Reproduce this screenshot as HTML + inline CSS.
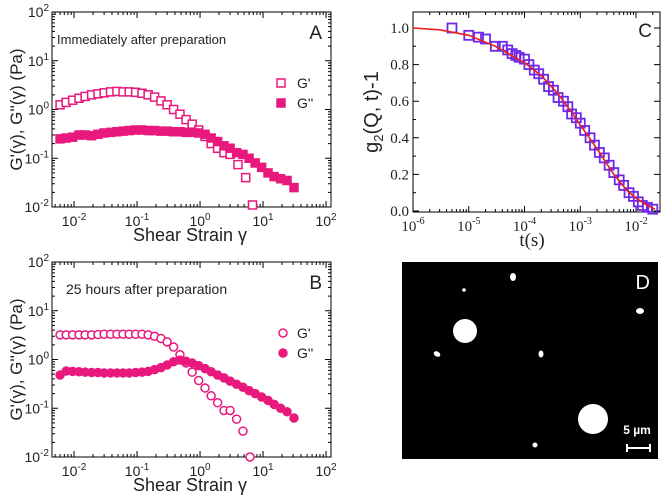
<!DOCTYPE html>
<html><head><meta charset="utf-8"><style>
html,body{margin:0;padding:0;background:#fff;}
svg{display:block;font-family:"Liberation Sans",sans-serif;}
.ser{font-family:"Liberation Serif",serif;}
</style></head><body>
<svg id="fig" width="666" height="498" viewBox="0 0 666 498">
<rect x="0" y="0" width="666" height="498" fill="#fff"/>
<g id="panelA"></g>
<g id="panelB"></g>
<g id="panelC"></g>
<g id="panelD">
  <rect x="402" y="262" width="256" height="197" fill="#000"/>
  <text x="650" y="289" font-size="20" fill="#fff" text-anchor="end">D</text>
  <circle cx="465" cy="331" r="12" fill="#fff"/>
  <circle cx="593" cy="419" r="15" fill="#fff"/>
  <ellipse cx="513" cy="277" rx="3" ry="4" fill="#fff"/>
  <circle cx="464" cy="290" r="1.8" fill="#fff"/>
  <ellipse cx="640" cy="311" rx="4" ry="3" fill="#fff"/>
  <ellipse cx="437" cy="354" rx="3.5" ry="2.5" fill="#fff" transform="rotate(30 437 354)"/>
  <ellipse cx="541" cy="354" rx="2.5" ry="3.5" fill="#fff"/>
  <circle cx="535" cy="445" r="2.5" fill="#fff"/>
  <text x="637" y="434" font-size="12" font-weight="bold" fill="#fff" text-anchor="middle">5 µm</text>
  <path d="M627 448 H650 M627 444 V452 M650 444 V452" stroke="#fff" stroke-width="2"/>
</g>
</svg>
<script>
// Panel A data
const aGpX = [0.006,0.0075,0.0095,0.012,0.015,0.019,0.024,0.03,0.038,0.048,0.06,0.075,0.095,0.12,0.15,0.19,0.24,0.3,0.38,0.48,0.6,0.75,0.95,1.2,1.5,1.9,2.4,3.0,4.0,5.3,6.8];
const aGpY = [1.25,1.4,1.55,1.7,1.85,2.0,2.1,2.2,2.3,2.35,2.3,2.3,2.25,2.15,2.0,1.8,1.5,1.25,1.0,0.8,0.62,0.5,0.38,0.28,0.2,0.16,0.13,0.12,0.074,0.04,0.011];
const aGppX = [0.006,0.0075,0.0095,0.012,0.015,0.019,0.024,0.03,0.038,0.048,0.06,0.075,0.095,0.12,0.15,0.19,0.24,0.3,0.38,0.48,0.6,0.75,0.95,1.2,1.5,1.9,2.4,3.0,3.8,4.8,6.0,7.5,9.5,12,15,19,24,31];
const aGppY = [0.25,0.26,0.27,0.3,0.3,0.29,0.31,0.33,0.34,0.35,0.36,0.37,0.38,0.38,0.37,0.37,0.36,0.36,0.35,0.35,0.34,0.34,0.33,0.31,0.26,0.22,0.18,0.16,0.13,0.12,0.1,0.08,0.065,0.05,0.042,0.038,0.035,0.025];
// Panel B data
const bGpX = [0.006,0.0075,0.0095,0.012,0.015,0.019,0.024,0.03,0.038,0.048,0.06,0.075,0.095,0.12,0.15,0.19,0.24,0.3,0.38,0.48,0.6,0.75,0.95,1.2,1.5,1.9,2.4,3.0,3.8,4.8,6.2];
const bGpY = [3.2,3.2,3.2,3.2,3.2,3.2,3.25,3.3,3.3,3.3,3.3,3.3,3.3,3.3,3.2,3.0,2.7,2.3,1.8,1.25,0.85,0.55,0.37,0.26,0.18,0.13,0.09,0.09,0.06,0.034,0.01];
const bGppX = [0.006,0.0075,0.0095,0.012,0.015,0.019,0.024,0.03,0.038,0.048,0.06,0.075,0.095,0.12,0.15,0.19,0.24,0.3,0.38,0.48,0.6,0.75,0.95,1.2,1.5,1.9,2.4,3.0,3.8,4.8,6.0,7.5,9.5,12,15,19,24,31];
const bGppY = [0.48,0.58,0.57,0.56,0.55,0.54,0.54,0.53,0.53,0.53,0.53,0.53,0.54,0.55,0.57,0.62,0.68,0.77,0.9,0.97,0.92,0.85,0.75,0.65,0.56,0.48,0.42,0.36,0.31,0.27,0.23,0.2,0.17,0.145,0.12,0.1,0.085,0.063];
const xTickLabelsAB = ['-2','-1','0','1','2'];
const yTickLabelsAB = ['-2','-1','0','1','2'];
// Panel C data
const cFitT = [1e-6,3e-6,1e-5,3e-5,1e-4,2e-4,4e-4,7e-4,1e-3,2e-3,4e-3,7e-3,1e-2,1.5e-2,2.2e-2];
const cFitG = [1.0,0.99,0.96,0.9,0.81,0.74,0.64,0.54,0.47,0.34,0.2,0.11,0.07,0.035,0.01];
const cDataT = [5e-6,1e-5,1.5e-5,2e-5,3e-5,4e-5,5e-5,6e-5,7e-5,8e-5,1e-4,1.2e-4,1.5e-4,1.8e-4,2.2e-4,2.7e-4,3.3e-4,4e-4,5e-4,6e-4,7e-4,8.5e-4,1e-3,1.2e-3,1.5e-3,1.8e-3,2.2e-3,2.7e-3,3.3e-3,4e-3,5e-3,6e-3,7.5e-3,9e-3,1.1e-2,1.3e-2,1.6e-2,2e-2];
const cDataG = [1.0,0.96,0.95,0.94,0.9,0.9,0.88,0.86,0.85,0.84,0.83,0.8,0.77,0.75,0.72,0.68,0.66,0.62,0.6,0.57,0.53,0.51,0.48,0.44,0.4,0.36,0.32,0.29,0.25,0.21,0.17,0.14,0.1,0.08,0.05,0.03,0.02,0.01];
const xTickLabelsC = ['-6','-5','-4','-3','-2'];
const yTickLabelsC = ['0.0','0.2','0.4','0.6','0.8','1.0'];

const NS='http://www.w3.org/2000/svg';
function mk(parent,tag,attrs,text){const e=document.createElementNS(NS,tag);for(const k in attrs)e.setAttribute(k,attrs[k]);if(text!==undefined)e.textContent=text;parent.appendChild(e);return e;}
const PINK='#e8187c';

function logPanel(g,top,title,label,series,shape){
  const L=52,R=331,T=top,B=top+195;
  const lx0=-2.35,pxd=63;
  const X=v=>L+(Math.log10(v)-lx0)*pxd;
  const Y=v=>T+(2-Math.log10(v))*48.75;
  const fr=mk(g,'rect',{x:L,y:T,width:R-L,height:B-T,fill:'none',stroke:'#000','stroke-width':1});
  
  
  let d='';
  for(let e=-3;e<=2;e++)for(let m=1;m<10;m++){const x=X(m*Math.pow(10,e));if(x<L||x>R)continue;const len=m===1?6:3;d+=`M${x} ${B}v${-len}M${x} ${T}v${len}`;}
  for(let e=-2;e<=2;e++)for(let m=1;m<10;m++){const v=m*Math.pow(10,e);if(v>100)continue;const y=Y(v);const len=m===1?6:3;d+=`M${L} ${y}h${len}M${R} ${y}h${-len}`;}
  const tk=mk(g,'path',{d:d,stroke:'#000','stroke-width':1,fill:'none'});
  
  
  xTickLabelsAB.forEach(s=>{const x=X(Math.pow(10,+s));const t=mk(g,'text',{x:x,y:B+19,'font-size':14,'text-anchor':'middle',fill:'#222'});
    
    
    t.appendChild(document.createTextNode('10'));mk(t,'tspan',{dy:-6,'font-size':10},s);});
  yTickLabelsAB.forEach(s=>{const y=Y(Math.pow(10,+s));const t=mk(g,'text',{x:L-3,y:y+5,'font-size':14,'text-anchor':'end',fill:'#222'});
    
    
    mk(t,'tspan',{},'10');mk(t,'tspan',{dy:-6,'font-size':10},s);});
  const xt=mk(g,'text',{x:190,y:B+34,'font-size':18,'text-anchor':'middle',fill:'#222'},'Shear Strain γ');
  
  
  const yt=mk(g,'text',{x:0,y:0,'font-size':17,'text-anchor':'middle',fill:'#222',transform:`translate(22 ${(T+B)/2}) rotate(-90)`},"G'(γ), G''(γ) (Pa)");
  
  
  const tt=mk(g,'text',{x:shape==='sq'?57:66,y:T+32,'font-size':shape==='sq'?13:14,fill:'#222'},title);
  
  
  const pl=mk(g,'text',{x:322,y:T+27,'font-size':19,'text-anchor':'end',fill:'#222'},label);
  
  
  series.forEach((s,si)=>{
    const sg=mk(g,'g',{});
    
    
    s.x.forEach((xv,i)=>{const cx=X(xv),cy=Y(s.y[i]);if(cx<L||cx>R||cy>B+2)return;
      let m;
      if(shape==='sq') m=mk(sg,'rect',{x:cx-4,y:cy-4,width:8,height:8,fill:s.fill?PINK:'#fff',stroke:PINK,'stroke-width':1.5});
      else m=mk(sg,'circle',{cx:cx,cy:cy,r:4,fill:s.fill?PINK:'#fff',stroke:PINK,'stroke-width':1.5});
      
      
    });
    const ly=T+(si===0?71:91);
    let lm;
    if(shape==='sq') lm=mk(g,'rect',{x:277,y:ly-4,width:8,height:8,fill:s.fill?PINK:'#fff',stroke:PINK,'stroke-width':1.5});
    else lm=mk(g,'circle',{cx:283,cy:ly,r:4,fill:s.fill?PINK:'#fff',stroke:PINK,'stroke-width':1.5});
    
    
    const lt=mk(g,'text',{x:297,y:ly+5,'font-size':14,fill:'#222'},si===0?"G'":"G''");
    
    
  });
}
logPanel(document.getElementById('panelA'),12,'Immediately after preparation','A',[{x:aGpX,y:aGpY,fill:false},{x:aGppX,y:aGppY,fill:true}],'sq');
logPanel(document.getElementById('panelB'),262,'25 hours after preparation','B',[{x:bGpX,y:bGpY,fill:false},{x:bGppX,y:bGppY,fill:true}],'ci');

// Panel C
(function(){
  const g=document.getElementById('panelC');
  const L=413,R=660,T=12,B=212;
  const X=v=>L+(Math.log10(v)+6)*55.75;
  const Y=v=>211-v*183;
  const fr=mk(g,'rect',{x:L,y:T,width:R-L,height:B-T,fill:'none',stroke:'#000','stroke-width':1});
  
  
  let d='';
  for(let e=-6;e<=-2;e++)for(let m=1;m<10;m++){const x=X(m*Math.pow(10,e));if(x>R)continue;const len=m===1?6:3;d+=`M${x} ${B}v${-len}M${x} ${T}v${len}`;}
  for(let v=0;v<=1.0001;v+=0.1){const y=Y(v);const len=Math.round(v*10)%2===0?6:3;d+=`M${L} ${y}h${len}M${R} ${y}h${-len}`;}
  const tk=mk(g,'path',{d:d,stroke:'#000','stroke-width':1,fill:'none'});
  
  
  xTickLabelsC.forEach(s=>{const t=mk(g,'text',{x:X(Math.pow(10,+s)),y:B+19,'font-size':15,'text-anchor':'middle',fill:'#222',class:'ser'});
    
    
    t.appendChild(document.createTextNode('10'));mk(t,'tspan',{dy:-7,'font-size':10},s);});
  yTickLabelsC.forEach(s=>{const t=mk(g,'text',{x:L-4,y:Y(+s)+5,'font-size':15,'text-anchor':'end',fill:'#222',class:'ser'},s);
    
    });
  const xt=mk(g,'text',{x:532,y:246,'font-size':19,'text-anchor':'middle',fill:'#222',class:'ser'},'t(s)');
  
  
  const yt=mk(g,'text',{x:0,y:0,'font-size':20,'text-anchor':'middle',fill:'#222',transform:`translate(378 ${(T+B)/2}) rotate(-90)`});
  
  
  yt.appendChild(document.createTextNode('g'));mk(yt,'tspan',{dy:5,'font-size':13},'2');mk(yt,'tspan',{dy:-5},'(Q, t)-1');
  const pl=mk(g,'text',{x:652,y:37,'font-size':19,'text-anchor':'end',fill:'#222'},'C');
  
  
  const sg=mk(g,'g',{});
  
  
  cDataT.forEach((t,i)=>{const m=mk(sg,'rect',{x:X(t)-4.5,y:Y(cDataG[i])-4.5,width:9,height:9,fill:'none',stroke:'#7028e8','stroke-width':1.8});
    
    });
  const pts=cFitT.map((t,i)=>`${X(t).toFixed(1)},${Y(cFitG[i]).toFixed(1)}`).join(' ');
  const ln=mk(g,'polyline',{points:pts,fill:'none',stroke:'#e8201c','stroke-width':1.6});
  
  
})();
</script>
</body></html>
